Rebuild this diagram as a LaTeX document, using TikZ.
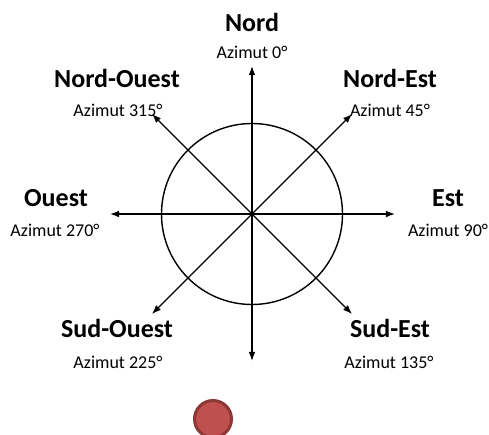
\documentclass[tikz,border=0pt]{standalone}
\usepackage{fontspec}
\setmainfont{Carlito}
\usetikzlibrary{arrows.meta,positioning}
\definecolor{Ink}{HTML}{000000}
\definecolor{Dot}{HTML}{C0504D}
\definecolor{DotLine}{HTML}{8C3836}
\tikzset{
  dirname/.style={font=\bfseries\fontsize{26}{30}\selectfont,text=Ink,inner sep=0pt},
  azimut/.style={font=\fontsize{18}{22}\selectfont,text=Ink,inner sep=0pt},
  axis/.style={-{Latex[length=3.2mm,width=2.4mm]},line width=1.4pt,draw=Ink},
  ring/.style={circle,draw=Ink,line width=1.4pt,minimum size=181pt,inner sep=0pt},
  reddot/.style={circle,draw=DotLine,line width=3pt,fill=Dot,minimum size=37pt,inner sep=0pt}
}
\begin{document}
\begin{tikzpicture}[x=1pt,y=-1pt]
\useasboundingbox (0,0) rectangle (489,434);
\coordinate (o) at (252,214);
\node[ring] (disc) at (o) {};
% arrow ends
\coordinate (n) at (252,66);
\coordinate (s) at (252,361);
\coordinate (w) at (110,214);
\coordinate (e) at (395,214);
\coordinate (nw) at (152,114);
\coordinate (ne) at (352,114);
\coordinate (sw) at (152,314);
\coordinate (se) at (352,314);
\foreach \d in {n,s,w,e,nw,ne,sw,se} \draw[axis] (o)--(\d);
% labels
\node[dirname] (nord) at (252,22) {Nord};
\node[azimut] (aznord) at (252,52) {Azimut 0°};
\node[dirname] (nordouest) at (117,78) {Nord-Ouest};
\node[azimut] (aznordouest) at (118,110) {Azimut 315°};
\node[dirname] (nordest) at (390,78) {Nord-Est};
\node[azimut] (aznordest) at (390,110) {Azimut 45°};
\node[dirname] (ouest) at (56,198) {Ouest};
\node[azimut] (azouest) at (55,230) {Azimut 270°};
\node[dirname] (est) at (448,198) {Est};
\node[azimut] (azest) at (448,230) {Azimut 90°};
\node[dirname] (sudouest) at (117,328) {Sud-Ouest};
\node[azimut] (azsudouest) at (118,362) {Azimut 225°};
\node[dirname] (sudest) at (390,328) {Sud-Est};
\node[azimut] (azsudest) at (389,362) {Azimut 135°};
\node[reddot] (dot) at (213,419) {};
\end{tikzpicture}
\end{document}
